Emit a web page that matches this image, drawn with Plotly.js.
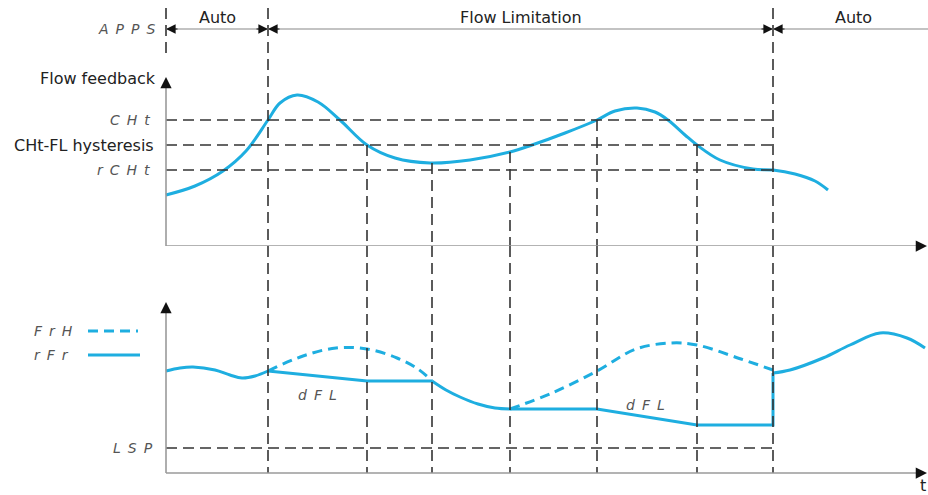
<!DOCTYPE html>
<html><head><meta charset="utf-8">
<script src="https://cdn.plot.ly/plotly-3.0.1.min.js"></script>
<style>html,body{margin:0;padding:0;background:#fff}</style>
</head><body><div id="chart" style="width:928px;height:495px"></div>
<script>
// ---- data (time in arbitrary units, values in arbitrary units) ----
const eventTimes = [102, 201, 266, 344, 431, 531, 607];
const eventTopFeedback = [238, 101, 83, 94, 126, 101, 238];
const appsPhases = ['Auto', 'Flow Limitation', 'Auto'];
const appsBounds = [0, 102, 607, 767];
const thresholdNames = ['CHt', 'CHt-FL hysteresis', 'rCHt'];
const thresholdValues = [126, 101, 76];
const lspValue = 25;

const feedbackT = [0, 29, 57, 80, 102, 114, 131, 152, 174, 201, 229, 264, 304, 344, 366, 399, 431, 449, 471, 489, 502, 519, 531, 554, 587, 607, 629, 649, 662];
const feedbackV = [51, 60, 75, 95, 126, 143, 151, 144, 126, 101, 88, 83, 86, 94, 101, 113, 126, 135, 138, 134, 126, 111, 101, 86, 77, 76, 72, 65, 56];

const rfrWaveT = [0, 14, 27, 49, 64, 76, 89, 102];
const rfrWaveV = [102, 105, 106, 103, 98, 95, 97, 102];
const rfrRampT = [102, 201, 266];
const rfrRampV = [102, 92, 92];
const rfrDropT = [266, 280, 294, 312, 329, 344];
const rfrDropV = [92, 83, 76, 69, 65, 64];
const rfrHoldT = [344, 431, 531, 607, 607];
const rfrHoldV = [64, 64, 48, 48, 100];
const rfrAutoT = [607, 624, 657, 684, 714, 741, 759];
const rfrAutoV = [100, 103, 115, 128, 140, 135, 125];

const frh1T = [102, 137, 170, 201, 231, 252, 266];
const frh1V = [102, 117, 125, 124, 115, 104, 92];
const frh2T = [344, 386, 431, 470, 505, 531, 575, 607];
const frh2V = [64, 80, 102, 124, 130, 128, 114, 103];

const dflT = [151, 479];
const dflV = [78, 68];

// ---- styles ----
const BLUE = '#1eaee0';
const DARK = '#333333';
const GRAY = '#9a9a9a';
const DASH = '11px,6px';
const SANS = {family: 'DejaVu Sans', size: 16, color: '#222'};
const SEG = {family: 'DejaVu Sans', size: 14, color: '#555', style: 'italic'};
const sp = s => s.split('').join('\u2002');

const traces = [];
function line(x, y, ax, opts) {
  traces.push(Object.assign({x: x, y: y, type: 'scatter', mode: 'lines', xaxis: 'x', yaxis: ax,
    hoverinfo: 'skip', showlegend: false}, opts));
}
line(feedbackT, feedbackV, 'y', {line: {color: BLUE, width: 3, shape: 'spline', smoothing: 1}});
line(rfrWaveT, rfrWaveV, 'y2', {line: {color: BLUE, width: 3, shape: 'spline', smoothing: 1}});
line(rfrRampT, rfrRampV, 'y2', {line: {color: BLUE, width: 3}});
line(rfrDropT, rfrDropV, 'y2', {line: {color: BLUE, width: 3, shape: 'spline', smoothing: 1}});
line(rfrHoldT, rfrHoldV, 'y2', {line: {color: BLUE, width: 3}});
line(rfrAutoT, rfrAutoV, 'y2', {line: {color: BLUE, width: 3, shape: 'spline', smoothing: 1}});
line(frh1T, frh1V, 'y2', {line: {color: BLUE, width: 3, shape: 'spline', smoothing: 1, dash: '10px,6px'}});
line(frh2T, frh2V, 'y2', {line: {color: BLUE, width: 3, shape: 'spline', smoothing: 1, dash: '10px,6px'}});

const shapes = [];
function seg(x0, y0, x1, y1, yref, color, width, dash) {
  shapes.push({type: 'line', xref: 'x', yref: yref, x0: x0, y0: y0, x1: x1, y1: y1,
    line: {color: color, width: width, dash: dash || 'solid'}});
}
// threshold lines
thresholdValues.forEach(v => seg(0, v, eventTimes[eventTimes.length - 1], v, 'y', DARK, 1.6, DASH));
seg(0, lspValue, eventTimes[eventTimes.length - 1], lspValue, 'y2', DARK, 1.6, DASH);
// event verticals
eventTimes.forEach((t, i) => {
  seg(t, eventTopFeedback[i], t, 0, 'y', DARK, 1.6, DASH);
  seg(t, 227, t, 0, 'y2', DARK, 1.6, DASH);
});
seg(0, 238, 0, 191, 'y', DARK, 1.6, DASH);
// APPS line
seg(0, 217, 762, 217, 'y', '#888', 1.2);
// axes
seg(0, 0, 752, 0, 'y', GRAY, 1.6);
seg(0, 0, 0, 160, 'y', GRAY, 1.6);
seg(0, 0, 752, 0, 'y2', GRAY, 1.6);
seg(0, 0, 0, 160, 'y2', GRAY, 1.6);
// legend samples
seg(-78, 142, -28, 142, 'y2', BLUE, 3, '10px,6px');
seg(-78, 118, -26, 118, 'y2', BLUE, 3);

const ann = [];
function txt(x, y, yref, text, font, xanchor) {
  ann.push({x: x, y: y, xref: 'x', yref: yref, text: text, showarrow: false, font: font,
    xanchor: xanchor || 'center', yanchor: 'middle'});
}
function arrow(x, y, yref, ax, ay, w, s) {
  ann.push({x: x, y: y, xref: 'x', yref: yref, text: '', showarrow: true, ax: ax, ay: ay,
    arrowhead: 2, arrowsize: s, arrowwidth: w, arrowcolor: '#111', standoff: 0});
}
appsPhases.forEach((p, i) => txt((appsBounds[i] + appsBounds[i + 1]) / 2, 229, 'y', p, SANS));
txt(-9, 217, 'y', sp('APPS'), SEG, 'right');
txt(-8, 168, 'y', 'Flow feedback', SANS, 'right');
thresholdNames.forEach((n, i) => txt(i === 1 ? -10 : -14, thresholdValues[i], 'y', i === 1 ? n : sp(n), i === 1 ? SANS : SEG, 'right'));
txt(-11, lspValue, 'y2', sp('LSP'), SEG, 'right');
txt(-134, 142, 'y2', sp('FrH'), SEG, 'left');
txt(-134, 118, 'y2', sp('rFr'), SEG, 'left');
dflT.forEach((t, i) => txt(t, dflV[i], 'y2', sp('dFL'), SEG));
txt(757, -16, 'y', 't', SANS);
txt(757, -12, 'y2', 't', SANS);
// arrowheads
arrow(0, 217, 'y', 13, 0, 1.2, 1.6);
[102, 607].forEach(t => { arrow(t, 217, 'y', -13, 0, 1.2, 1.6); arrow(t, 217, 'y', 13, 0, 1.2, 1.6); });
arrow(0, 169, 'y', 0, 12, 1.5, 1.5);
arrow(0, 171, 'y2', 0, 12, 1.5, 1.5);
arrow(761, 0, 'y', -12, 0, 1.5, 1.5);
arrow(761, 0, 'y2', -12, 0, 1.5, 1.5);

const layout = {
  width: 928, height: 495, margin: {l: 0, r: 0, t: 0, b: 0},
  paper_bgcolor: '#fff', plot_bgcolor: 'rgba(0,0,0,0)',
  showlegend: false, hovermode: false,
  xaxis: {range: [-166, 762], visible: false, domain: [0, 1]},
  yaxis: {range: [0, 246], visible: false, domain: [1 - 246 / 495, 1]},
  yaxis2: {range: [-22, 227], visible: false, domain: [0, 1 - 246 / 495], anchor: 'x'},
  shapes: shapes, annotations: ann
};
Plotly.newPlot('chart', traces, layout, {staticPlot: true, displayModeBar: false});
</script></body></html>
